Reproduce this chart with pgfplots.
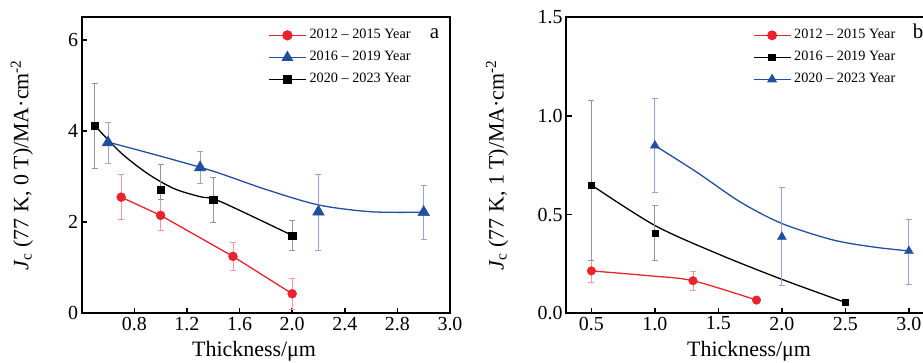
\documentclass[border=0pt]{standalone}
\usepackage{pgfplots}
\pgfplotsset{compat=1.18}
\usepackage{fontspec}
\setmainfont{Liberation Serif}
\definecolor{cred}{RGB}{232,35,43}
\definecolor{cblue}{RGB}{33,78,158}
\definecolor{ered}{RGB}{242,150,155}
\definecolor{eblue}{RGB}{150,165,215}
\definecolor{eblack}{RGB}{150,150,150}
\pgfplotsset{
  panel/.style={
    scale only axis, width=368.3bp, height=296bp,
    axis line style={line width=1.8bp},
    tick align=inside, tick pos=left,
    major tick length=5.5bp,
    tick style={line width=1.5bp, black},
    ticklabel style={font=\fontsize{20}{20}\selectfont},
    /pgf/number format/assume math mode=true,
    label style={font=\fontsize{22}{22}\selectfont},
    legend style={draw=none, fill=none, anchor=north west,
      font=\fontsize{14.3}{15}\selectfont, inner sep=0pt, row sep=7bp, column sep=2bp,
      nodes={inner sep=1bp, text height=10bp, text depth=3bp}},
    legend cell align=left,
    legend image code/.code={\draw[mark repeat=2,mark phase=2,##1] plot coordinates {(0bp,0bp) (18.5bp,0bp) (37bp,0bp)};},
    clip=false,
  },
  curve/.style={line width=1.3bp, smooth, no marks, forget plot},
  ebar/.style={error bars/.cd, y dir=both, y explicit,
     error bar style={color=#1, line width=0.9bp},
     error mark options={rotate=90, color=#1, mark size=3bp, line width=0.9bp}},
}
\begin{document}
\begin{tikzpicture}[x=1bp,y=1bp]
% ---------------- panel a ----------------
\begin{axis}[panel, at={(81.7bp,48.7bp)}, anchor=south west,
  xmin=0.4, xmax=3.2, ymin=0, ymax=6.5,
  xtick={0.8,1.2,1.6,2.0,2.4,2.8,3.2}, xticklabels={0.8,1.2,1.6,2.0,2.4,2.8,3.0},
  ytick={0,2,4,6}, yticklabels={0,2,4,6},
  xlabel={Thickness/μm},
  xlabel style={at={(axis description cs:0.468,-0.1466)}, anchor=base},
  ylabel={\textit{J}\textsubscript{c} (77 K, 0 T)/MA·cm\textsuperscript{-2}},
  ylabel style={at={(axis description cs:-0.1621,0.5)}, anchor=center},
  legend style={at={(rel axis cs:0.506,0.965)}},
]
\addlegendimage{cred, line width=1.3bp, mark=*, mark size=4.5bp, mark options={solid}}
\addlegendentry{2012 – 2015 Year}
\addlegendimage{cblue, line width=1.3bp, mark=triangle*, mark size=5.5bp, mark options={solid}}
\addlegendentry{2016 – 2019 Year}
\addlegendimage{black, line width=1.3bp, mark=square*, mark size=3.7bp, mark options={solid}}
\addlegendentry{2020 – 2023 Year}
% fitted curves
\addplot[curve, cred, sharp plot] coordinates {(0.7,2.55) (1.0,2.15) (1.55,1.25) (2.0,0.43)};
\addplot[curve, cblue] coordinates {(0.6,3.76) (1.0,3.45) (1.4,3.12) (1.8,2.72) (2.2,2.38) (2.6,2.23) (3.0,2.22)};
\addplot[curve, black] coordinates {(0.5,4.12) (0.7,3.52) (0.9,3.07) (1.1,2.74) (1.3,2.56) (1.45,2.46) (2.0,1.71)};
% data with error bars
\addplot[forget plot, only marks, mark=*, color=cred, mark size=4.5bp, ebar=ered]
  table[x=x, y=y, y error plus=ep, y error minus=em] {
x y ep em
0.7 2.55 0.50 0.50
1.0 2.15 0.35 0.33
1.55 1.25 0.31 0.30
2.0 0.43 0.33 0.35
};
\addplot[forget plot, only marks, mark=triangle*, color=cblue, mark size=6.7bp, ebar=eblue]
  table[x=x, y=y, y error plus=ep, y error minus=em] {
x y ep em
0.6 3.75 0.45 0.45
1.3 3.20 0.35 0.34
2.2 2.23 0.83 0.85
3.0 2.22 0.58 0.59
};
\addplot[forget plot, only marks, mark=square*, color=black, mark size=3.7bp, ebar=eblack]
  table[x=x, y=y, y error plus=ep, y error minus=em] {
x y ep em
0.5 4.12 0.93 0.93
1.0 2.72 0.55 0.22
1.4 2.49 0.50 0.50
2.0 1.71 0.32 0.34
};
\node[font=\fontsize{21}{21}\selectfont, anchor=base] at (rel axis cs:0.958,0.929) {a};
\end{axis}
% ---------------- panel b ----------------
\begin{axis}[panel, at={(566bp,48.7bp)}, anchor=south west,
  xmin=0.3, xmax=3.2, ymin=0, ymax=1.5,
  xtick={0.5,1.0,1.5,2.0,2.5,3.0}, xticklabels={0.5,1.0,1.5,2.0,2.5,3.0},
  ytick={0,0.5,1.0,1.5}, yticklabels={0.0,0.5,1.0,1.5},
  xlabel={Thickness/μm},
  xlabel style={at={(axis description cs:0.497,-0.1466)}, anchor=base},
  ylabel={\textit{J}\textsubscript{c} (77 K, 1 T)/MA·cm\textsuperscript{-2}},
  ylabel style={at={(axis description cs:-0.1873,0.5)}, anchor=center},
  legend style={at={(rel axis cs:0.507,0.965)}},
]
\addlegendimage{cred, line width=1.3bp, mark=*, mark size=4.3bp, mark options={solid}}
\addlegendentry{2012 – 2015 Year}
\addlegendimage{black, line width=1.3bp, mark=square*, mark size=3bp, mark options={solid}}
\addlegendentry{2016 – 2019 Year}
\addlegendimage{cblue, line width=1.3bp, mark=triangle*, mark size=4.5bp, mark options={solid}}
\addlegendentry{2020 – 2023 Year}
\addplot[curve, cred] coordinates {(0.5,0.215) (0.96,0.19) (1.3,0.165) (1.8,0.067)};
\addplot[curve, black] coordinates {(0.5,0.65) (1.0,0.445) (1.5,0.30) (2.0,0.172) (2.5,0.055)};
\addplot[curve, cblue] coordinates {(1.0,0.85) (1.33,0.715) (1.67,0.565) (2.0,0.455) (2.4,0.372) (2.72,0.336) (3.0,0.316)};
\addplot[forget plot, only marks, mark=*, color=cred, mark size=4.3bp, ebar=ered]
  table[x=x, y=y, y error plus=ep, y error minus=em] {
x y ep em
0.5 0.215 0.055 0.058
1.3 0.165 0.049 0.047
1.8 0.067 0 0
};
\addplot[forget plot, only marks, mark=square*, color=black, mark size=3bp, ebar=eblack]
  table[x=x, y=y, y error plus=ep, y error minus=em] {
x y ep em
0.5 0.650 0.427 0.380
1.0 0.404 0.141 0.138
2.5 0.055 0 0
};
\addplot[forget plot, only marks, mark=triangle*, color=cblue, mark size=5.2bp, ebar=eblue]
  table[x=x, y=y, y error plus=ep, y error minus=em] {
x y ep em
1.0 0.850 0.240 0.240
2.0 0.387 0.249 0.246
3.0 0.315 0.161 0.167
};
\node[font=\fontsize{21}{21}\selectfont, anchor=base] at (rel axis cs:0.956,0.929) {b};
\end{axis}
\pgfresetboundingbox
\path[use as bounding box] (0,0) rectangle (923,362);
\end{tikzpicture}
\end{document}
